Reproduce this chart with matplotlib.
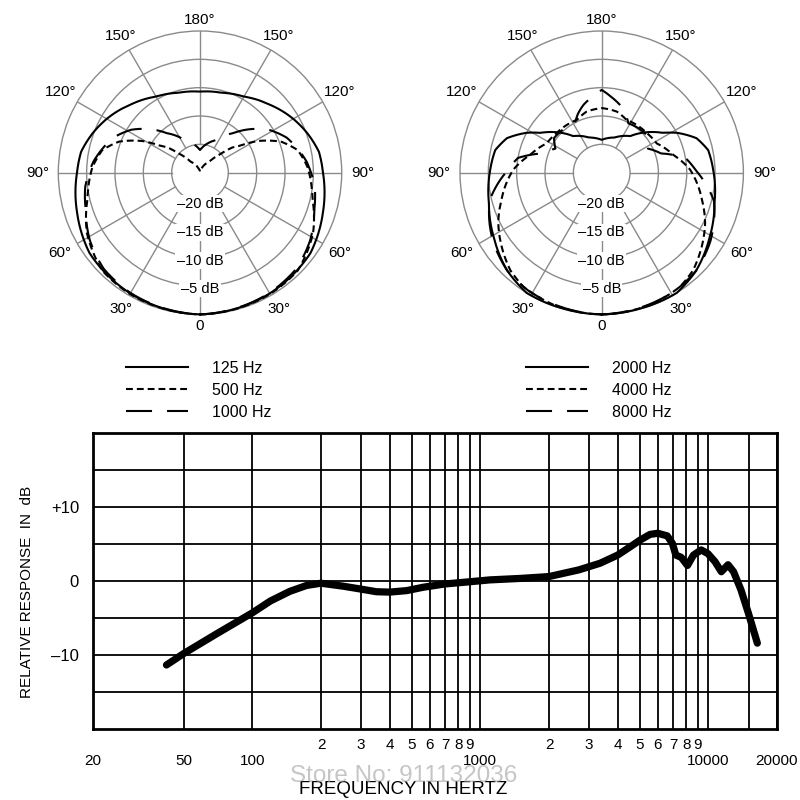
import numpy as np
import matplotlib
matplotlib.use("Agg")
import matplotlib.pyplot as plt

plt.rcParams["font.family"] = ["Liberation Sans", "DejaVu Sans"]

# ---------------------------------------------------------------------------
# Polar patterns: one half (0 deg = on-axis at the bottom, 180 deg = rear),
# the other half is the mirror image.  Values in dB.
# ---------------------------------------------------------------------------
ANG_125 = [0, 30, 54, 72, 90, 100, 110, 120, 135, 150, 165, 180]
DB_125 = [0, -0.4, -0.9, -2.2, -3.3, -3.7, -4.8, -6.0, -7.9, -9.5, -10.4, -10.7]

ANG_500 = [0, 30, 45, 62, 76, 81, 93, 103, 111, 119, 124, 128, 132, 140, 160, 180]
DB_500 = [0, -0.3, -0.6, -2.4, -4.5, -5.0, -6.0, -7.3, -9.7, -13.5, -16.5,
          -17.8, -19.9, -22.5, -24.2, -24.8]

ANG_1000 = [0, 30, 45, 58.5, 72, 83, 96, 112, 122, 140, 155, 180]
DB_1000 = [0, -0.5, -1.0, -2.2, -3.8, -4.6, -6.1, -8.5, -10.7, -15.9, -18.7, -21.0]

ANG_2000 = [0, 15, 32, 44, 59, 75, 91, 102, 110, 118, 123, 142, 160, 180]
DB_2000 = [0, -0.1, 0, -1.0, -2.8, -4.4, -5.3, -5.8, -7.2, -10.0, -12.1, -16.8,
           -18.4, -19.2]

ANG_4000 = [0, 20, 34.5, 43, 53.5, 64, 75, 82, 92, 104, 118, 131, 155, 166, 180]
DB_4000 = [0, -0.2, -0.6, -1.4, -3.05, -4.7, -6.7, -7.8, -9.4, -12.0, -14.0,
           -14.4, -14.7, -13.9, -13.6]

ANG_8000 = [0, 20, 32, 44, 57.5, 65, 76, 91, 100, 108, 117.5, 126, 140, 151.6,
            158, 165, 173, 180]
DB_8000 = [0, -0.3, -0.5, -1.0, -2.3, -3.2, -4.6, -8.3, -10.0, -14.0, -15.8,
           -14.6, -14.8, -15.1, -13.8, -12.6, -11.5, -10.4]

ANGLE_TICKS = [0, 30, 60, 90, 120, 150, 180, 210, 240, 270, 300, 330]
ANGLE_LABELS = ["0", "30°", "60°", "90°", "120°", "150°", "180°",
                "150°", "120°", "90°", "60°", "30°"]
RING_DB = [-20, -15, -10, -5]
RING_LABELS = ["\u201320 dB", "\u201315 dB", "\u201310 dB", "\u20135 dB"]

# ---------------------------------------------------------------------------
# Frequency response
# ---------------------------------------------------------------------------
FREQ = [42, 50, 70, 100, 120, 146, 173, 200, 250, 300, 350, 400, 475, 560, 700,
        900, 1100, 1500, 2000, 2700, 3350, 4000, 4530, 5000, 5550, 6000, 6600,
        6950, 7200, 7600, 8100, 8600, 9300, 9950, 10700, 11400, 12200, 12900,
        13900, 15000, 16400]
RESP = [-11.35, -9.8, -7.1, -4.3, -2.7, -1.4, -0.6, -0.3, -0.7, -1.1, -1.45,
        -1.5, -1.3, -0.85, -0.4, -0.1, 0.15, 0.35, 0.6, 1.5, 2.4, 3.5, 4.6, 5.5,
        6.3, 6.45, 6.1, 5.1, 3.5, 3.2, 2.1, 3.5, 4.2, 3.7, 2.6, 1.25, 2.2, 1.25,
        -1.2, -4.4, -8.4]

MAJOR_TICKS = [20, 50, 100, 1000, 10000, 20000]
MAJOR_LABELS = ["20", "50", "100", "1000", "10000", "20000"]
MINOR_TICKS = [200, 300, 400, 500, 600, 700, 800, 900,
               2000, 3000, 4000, 5000, 6000, 7000, 8000, 9000, 15000]
MINOR_LABELS = ["2", "3", "4", "5", "6", "7", "8", "9",
                "2", "3", "4", "5", "6", "7", "8", "9", ""]
Y_TICKS = [-15, -10, -5, 0, 5, 10, 15]
Y_LABELS = ["", "\u201310", "", "0", "", "+10", ""]

GRID = "#8a8a8a"
SHORT_DASH = (3.3, 1.9)
LONG_DASH = (12.5, 7.2)


def full_pattern(ang, db):
    a = np.asarray(ang, float)
    d = np.asarray(db, float)
    th = np.concatenate([a, 360 - a[::-1][1:]])
    r = np.concatenate([d, d[::-1][1:]])
    return np.deg2rad(th), r


def polar_panel(fig, rect, curves):
    ax = fig.add_axes(rect, projection="polar")
    ax.set_theta_zero_location("S")
    ax.set_ylim(-25, 0)
    ax.set_yticks(RING_DB)
    ax.set_yticklabels([])
    ax.set_xticks([])
    ax.yaxis.grid(True, color=GRID, lw=1.0)
    ax.xaxis.grid(False)
    ax.spines["polar"].set_color(GRID)
    ax.spines["polar"].set_linewidth(1.0)
    for a in ANGLE_TICKS:
        t = np.deg2rad(a)
        ax.plot([t, t], [-20, 0], color=GRID, lw=1.0, zorder=1)
    for a, lab in zip(ANGLE_TICKS, ANGLE_LABELS):
        t = np.deg2rad(a)
        off = 2.0 + 1.7 * abs(np.sin(t))
        ax.text(t, off, lab, ha="center", va="center", fontsize=11)
    for rdb, lab in zip(RING_DB, RING_LABELS):
        ax.text(0, rdb + 0.5, lab, ha="center", va="center", fontsize=10.5,
                zorder=3, bbox=dict(facecolor="white", edgecolor="none", pad=1))
    handles = []
    for ang, db, dashes, lab in curves:
        th, r = full_pattern(ang, db)
        ln, = ax.plot(th, r, color="black", lw=1.5, zorder=4, label=lab,
                      clip_on=False)
        # follow arcs between the read points instead of straight chords
        ln.get_path()._interpolation_steps = 40
        if dashes is not None:
            ln.set_dashes(dashes)
        handles.append(ln)
    return ax, handles


fig = plt.figure(figsize=(8, 8), dpi=100)

R = 141.7
ax_l, h_l = polar_panel(
    fig, [(200 - R) / 800, 1 - (172.7 + R) / 800, 2 * R / 800, 2 * R / 800],
    [(ANG_125, DB_125, None, "125 Hz"),
     (ANG_500, DB_500, SHORT_DASH, "500 Hz"),
     (ANG_1000, DB_1000, LONG_DASH, "1000 Hz")])
ax_r, h_r = polar_panel(
    fig, [(601.7 - R) / 800, 1 - (172.7 + R) / 800, 2 * R / 800, 2 * R / 800],
    [(ANG_2000, DB_2000, None, "2000 Hz"),
     (ANG_4000, DB_4000, SHORT_DASH, "4000 Hz"),
     (ANG_8000, DB_8000, LONG_DASH, "8000 Hz")])

leg_kw = dict(loc="upper left", frameon=False, handlelength=3.9,
              handletextpad=1.5, labelspacing=0.44, borderpad=0,
              borderaxespad=0, fontsize=11.5)
fig.legend(handles=h_l, bbox_to_anchor=(126 / 800, 1 - 361 / 800), **leg_kw)
fig.legend(handles=h_r, bbox_to_anchor=(526 / 800, 1 - 361 / 800), **leg_kw)

# frequency response panel
ax = fig.add_axes([93 / 800, 1 - 729 / 800, 684 / 800, 296 / 800])
ax.semilogx(FREQ, RESP, color="black", lw=5.2, solid_capstyle="round",
            solid_joinstyle="round", zorder=3)
ax.set_xlim(20, 20000)
ax.set_ylim(-20, 20)
ax.set_xticks(MAJOR_TICKS)
ax.set_xticklabels(MAJOR_LABELS)
ax.set_xticks(MINOR_TICKS, minor=True)
ax.set_xticklabels(MINOR_LABELS, minor=True)
ax.set_yticks(Y_TICKS)
ax.set_yticklabels(Y_LABELS)
ax.tick_params(axis="x", which="major", length=0, pad=18, labelsize=11)
ax.tick_params(axis="x", which="minor", length=0, pad=6.5, labelsize=11)
ax.tick_params(axis="y", length=0, pad=10, labelsize=12)
ax.grid(True, which="both", color="black", lw=1.3)
ax.set_axisbelow(True)
for s in ax.spines.values():
    s.set_linewidth(2)

ax.set_ylabel("RELATIVE RESPONSE  IN  dB", fontsize=11)
ax.yaxis.set_label_coords(-66 / 684, 0.463)
ax.yaxis.label.set_va("center")
ax.set_xlabel("FREQUENCY IN HERTZ", fontsize=13.5)
ax.xaxis.set_label_coords((403 - 93) / 684, -(790 - 729) / 296)
ax.xaxis.label.set_va("center")

fig.text(404 / 800, 1 - 776 / 800, "Store No: 911132036", ha="center",
         va="center", fontsize=17.5, color="#a0a0a0", alpha=0.6, zorder=10)

fig.savefig("out.png", dpi=100)
